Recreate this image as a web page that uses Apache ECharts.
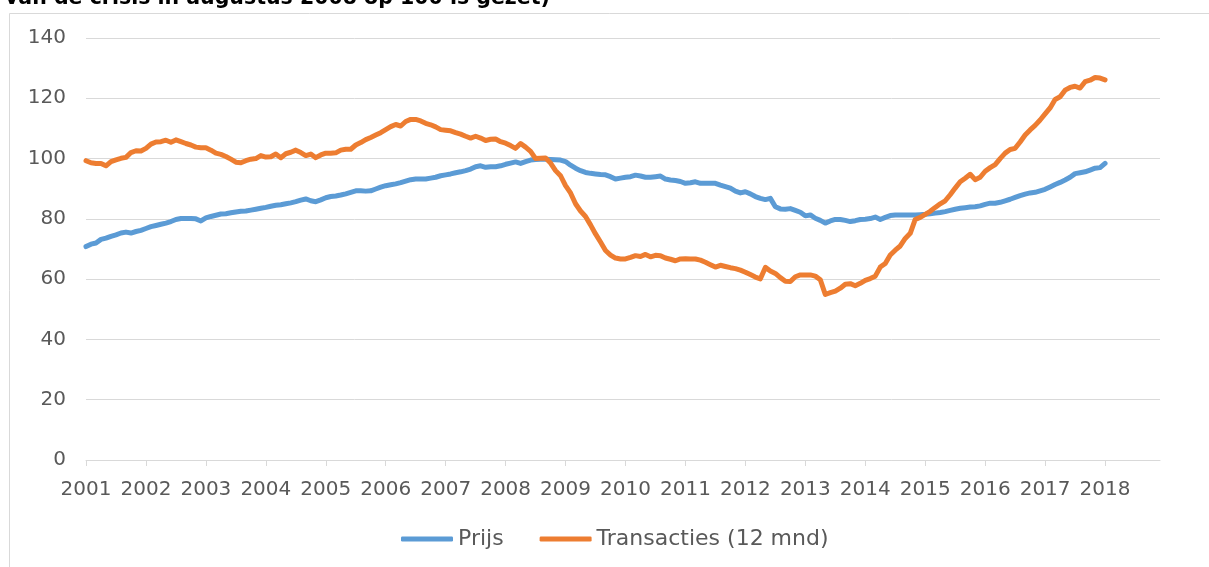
<!DOCTYPE html>
<html>
<head>
<meta charset="utf-8">
<script src="https://cdn.jsdelivr.net/npm/echarts@6/dist/echarts.min.js"></script>
<style>
html,body{margin:0;padding:0;background:#fff;}
#chart{width:1209px;height:567px;}
</style>
</head>
<body>
<div id="chart"></div>
<script>
const titleText = 'van de crisis in augustus 2008 op 100 is gezet)';
const years = [2001,2002,2003,2004,2005,2006,2007,2008,2009,2010,2011,2012,2013,2014,2015,2016,2017,2018];
const seriesNames = ['Prijs', 'Transacties (12 mnd)'];
const yTicks = [0,20,40,60,80,100,120,140];

// monthly values, Jan 2001 .. Jan 2018
const prijs = [
70.8,71.6,72.0,73.2,73.6,74.2,74.7,75.3,75.6,75.3,75.8,76.2,
76.8,77.4,77.8,78.2,78.6,79.1,79.8,80.1,80.1,80.1,80.0,79.3,
80.3,80.8,81.2,81.6,81.7,82.0,82.3,82.5,82.6,82.9,83.2,83.5,
83.8,84.2,84.5,84.7,85.0,85.3,85.7,86.2,86.6,86.0,85.7,86.3,
87.0,87.4,87.6,87.9,88.3,88.8,89.3,89.3,89.2,89.3,89.9,90.5,
91.0,91.3,91.6,92.0,92.5,93.0,93.2,93.2,93.2,93.5,93.8,94.3,
94.6,94.9,95.3,95.6,96.0,96.5,97.3,97.6,97.1,97.3,97.3,97.6,
98.1,98.5,98.9,98.4,99.0,99.5,99.7,99.8,99.8,99.7,99.6,99.5,
99.0,97.8,96.8,96.0,95.4,95.1,94.9,94.7,94.6,94.0,93.2,93.5,
93.8,94.0,94.5,94.2,93.8,93.8,94.0,94.2,93.2,92.9,92.7,92.4,
91.8,92.0,92.3,91.8,91.8,91.8,91.8,91.2,90.7,90.2,89.2,88.6,
89.0,88.3,87.4,86.8,86.4,86.8,84.0,83.3,83.2,83.4,82.8,82.2,
81.0,81.3,80.2,79.5,78.6,79.3,79.8,79.8,79.5,79.1,79.4,79.8,
79.9,80.1,80.6,79.8,80.5,81.1,81.3,81.3,81.3,81.3,81.3,81.4,
81.5,81.7,81.9,82.1,82.4,82.8,83.2,83.5,83.7,83.9,84.0,84.3,
84.8,85.2,85.2,85.5,86.0,86.5,87.1,87.7,88.2,88.6,88.8,89.3,
89.8,90.6,91.4,92.1,92.9,93.8,95.0,95.3,95.6,96.2,96.8,97.0,
98.4
];
const transacties = [
99.3,98.6,98.4,98.4,97.6,99.0,99.6,100.1,100.4,102.0,102.6,102.5,
103.4,104.8,105.5,105.6,106.1,105.4,106.2,105.6,105.0,104.5,103.8,103.6,
103.6,102.8,101.8,101.4,100.7,99.8,98.8,98.6,99.3,99.8,100.0,101.0,
100.5,100.6,101.5,100.3,101.6,102.1,102.8,102.0,101.0,101.5,100.3,101.2,
101.8,101.8,101.9,102.8,103.1,103.1,104.5,105.3,106.3,107.0,107.8,108.6,
109.6,110.6,111.3,110.8,112.3,113.0,113.0,112.5,111.7,111.2,110.5,109.6,
109.4,109.2,108.6,108.1,107.4,106.8,107.4,106.8,106.0,106.4,106.5,105.6,
105.1,104.3,103.4,105.0,103.8,102.4,100.0,100.1,100.2,98.5,96.0,94.3,
91.0,88.6,85.0,82.6,80.8,78.0,75.0,72.3,69.5,68.0,67.0,66.7,
66.7,67.2,67.8,67.5,68.2,67.4,67.9,67.8,67.0,66.6,66.1,66.7,
66.8,66.7,66.7,66.3,65.6,64.8,64.0,64.6,64.2,63.8,63.5,63.0,
62.3,61.5,60.7,60.1,63.9,62.7,61.9,60.5,59.3,59.2,60.8,61.4,
61.4,61.4,61.0,59.8,54.9,55.5,56.0,57.0,58.3,58.5,57.8,58.6,
59.6,60.2,61.0,64.0,65.2,68.0,69.6,71.0,73.5,75.2,79.8,80.5,
81.5,82.5,83.8,85.0,86.0,88.0,90.2,92.3,93.5,94.8,93.0,93.8,
95.8,97.0,98.0,100.0,101.8,103.0,103.4,105.5,107.8,109.5,111.0,112.8,
114.8,116.8,119.6,120.5,122.7,123.6,124.0,123.4,125.5,126.0,126.9,126.7,
126.1
];

const categories = [];
years.forEach(y => { for (let m = 1; m <= 12; m++) categories.push(y + '-' + (m < 10 ? '0' + m : m)); });

const chart = echarts.init(document.getElementById('chart'), null, {renderer: 'canvas'});
const txt = '#595959';
const font = 'DejaVu Sans';
const yearIdx = (i) => i % 12 === 0;

chart.setOption({
  animation: false,
  backgroundColor: '#fff',
  textStyle: {fontFamily: font},
  graphic: [
    {type: 'rect', left: 7, top: 11, shape: {width: 1260, height: 620}, style: {fill: 'none', stroke: '#D9D9D9', lineWidth: 1}, silent: true},
    {type: 'text', x: 5, y: 9, style: {text: titleText, font: 'bold 20.5px "DejaVu Sans"', fill: '#000', verticalAlign: 'bottom', align: 'left'}}
  ],
  grid: {left: 86, right: 49, top: 38, bottom: 107, containLabel: false},
  legend: {
    data: seriesNames,
    bottom: 12,
    left: 396,
    icon: 'roundRect',
    itemWidth: 52,
    itemHeight: 5,
    itemGap: 36,
    textStyle: {color: txt, fontSize: 22, fontFamily: font, padding: [0,0,0,0]}
  },
  xAxis: {
    type: 'category',
    data: categories,
    boundaryGap: false,
    axisLine: {show: true, lineStyle: {color: '#D9D9D9', width: 1}},
    axisTick: {show: true, interval: (i) => yearIdx(i), length: 6, lineStyle: {color: '#D9D9D9'}},
    axisLabel: {
      interval: (i) => yearIdx(i),
      formatter: (v) => v.slice(0, 4),
      color: txt, fontSize: 20, fontFamily: font, margin: 20
    },
    splitLine: {show: false}
  },
  yAxis: {
    type: 'value',
    min: yTicks[0],
    max: yTicks[yTicks.length - 1],
    interval: 20,
    axisLine: {show: false},
    axisTick: {show: false},
    axisLabel: {color: txt, fontSize: 20, fontFamily: font, margin: 20},
    splitLine: {lineStyle: {color: '#D9D9D9', width: 1}}
  },
  series: [
    {name: seriesNames[0], type: 'line', data: prijs, showSymbol: false, symbol: 'none',
     lineStyle: {color: '#5B9BD5', width: 5, cap: 'round', join: 'round'}, itemStyle: {color: '#5B9BD5'}},
    {name: seriesNames[1], type: 'line', data: transacties, showSymbol: false, symbol: 'none',
     lineStyle: {color: '#ED7D31', width: 5, cap: 'round', join: 'round'}, itemStyle: {color: '#ED7D31'}}
  ]
});
</script>
</body>
</html>
